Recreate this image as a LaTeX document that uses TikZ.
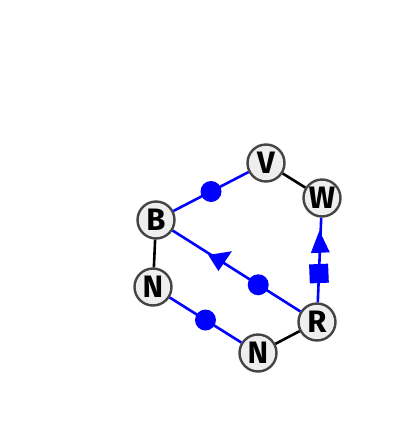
\documentclass[tikz,border=0pt]{standalone}
\usepackage{fontspec}
\setmainfont{Fira Sans}
\usepackage{tikz}
\usetikzlibrary{shapes.geometric}

\tikzset{
  atom/.style={circle, draw={rgb,255:red,68;green,68;blue,68}, fill={rgb,255:red,238;green,238;blue,238}, line width=2.4pt, minimum size=37, inner sep=0pt, font=\fontsize{31}{31}\selectfont\bfseries},
  bond/.style={line width=2.6pt},
  link/.style={line width=2.6pt, blue},
  dotmark/.style={circle, fill=blue, inner sep=0pt, minimum size=21},
  tipmark/.style={isosceles triangle, isosceles triangle stretches, shape border rotate=180, fill=blue, inner sep=0pt, minimum width=19, minimum height=22, sloped, allow upside down},
  boxmark/.style={rectangle, fill=blue, inner sep=0pt, minimum size=19, sloped, allow upside down}
}

\begin{document}
\begin{tikzpicture}[x=1pt,y=1pt,yscale=-1,xscale=1]
        \useasboundingbox (0,0) rectangle (400,440);

        % Nodes
        \node [atom] (V) at (266,163) {V};
        \node [atom] (W) at (322,198) {W};
        \node [atom] (B) at (156,220) {B};
        \node [atom] (N1) at (153,287) {N};
        \node [atom] (N2) at (258,353) {N};
        \node [atom] (R) at (317,322) {R};

        % black bonds
        \draw [bond] (V) -- (W);
        \draw [bond] (B) -- (N1);
        \draw [bond] (N2) -- (R);

        % blue links
        \draw [link] (B) -- node [dotmark] {} (V);
        \draw [link] (N1) -- node [dotmark] {} (N2);
        \draw [link] (R) -- node [pos=0.33, dotmark] {} node [pos=0.64, tipmark] {} (B);
        \draw [link] (R) -- node [pos=0.34, boxmark] {} node [pos=0.66, tipmark] {} (W);

\end{tikzpicture}
\end{document}
